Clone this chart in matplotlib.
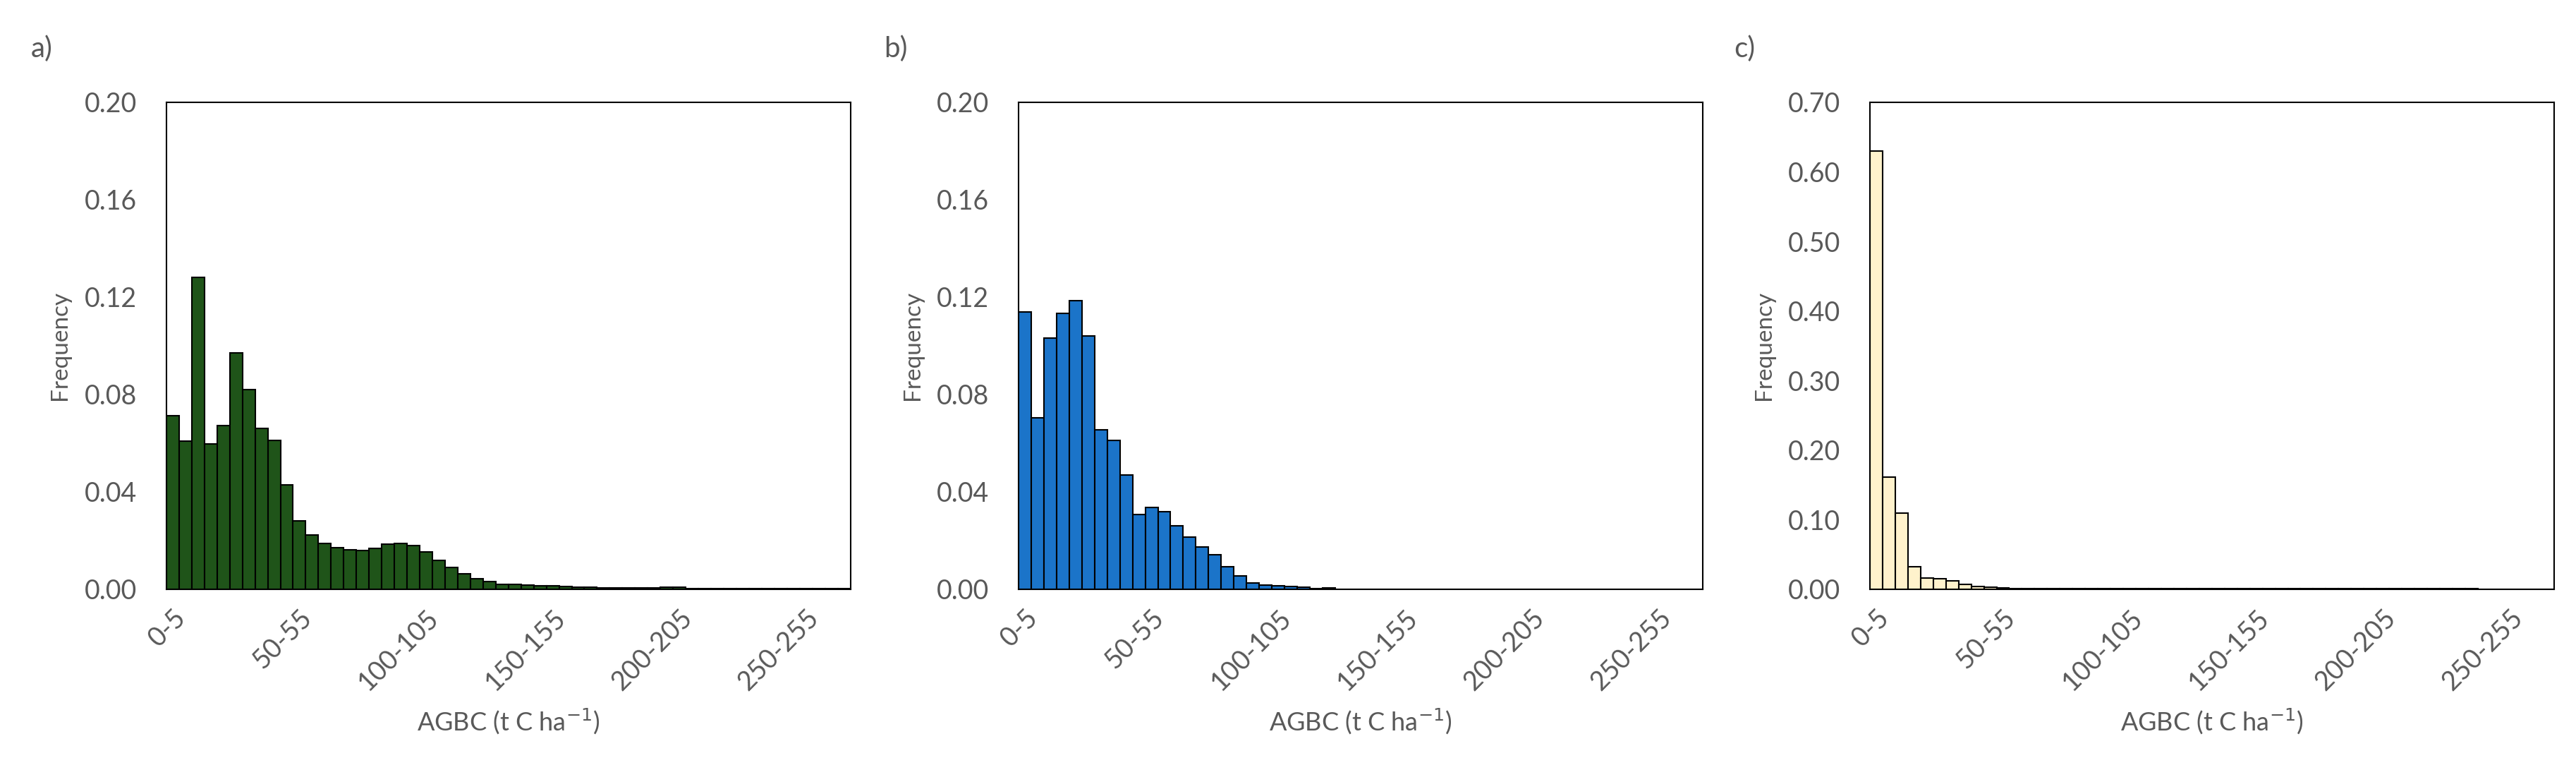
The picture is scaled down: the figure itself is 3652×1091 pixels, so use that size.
import numpy as np
import matplotlib
matplotlib.use("Agg")
from matplotlib import pyplot as plt

plt.rcParams['font.family'] = ['Lato', 'DejaVu Sans']

# 5 t C/ha bins, 0-5 .. 265-270
bin_labels = [f"{i * 5}-{i * 5 + 5}" for i in range(54)]

freq_a = [0.0713, 0.0609, 0.128, 0.0598, 0.0672, 0.097, 0.082, 0.066, 0.0612, 0.0428,
          0.028, 0.0223, 0.0187, 0.0171, 0.0161, 0.0158, 0.0168, 0.0185, 0.0189, 0.0179,
          0.0152, 0.012, 0.009, 0.0063, 0.0044, 0.0031, 0.0021, 0.002, 0.0017, 0.0014,
          0.0014, 0.0011, 0.0008, 0.0008, 0.0005, 0.0005, 0.0005, 0.0005, 0.0005, 0.0008,
          0.0008, 0.0004, 0.0004, 0.0004, 0.0004, 0.0002, 0.0002, 0.0002, 0.0002, 0.0002,
          0.0002, 0.0002, 0.0002, 0.0002]
freq_b = [0.114, 0.0705, 0.1033, 0.1134, 0.1184, 0.104, 0.0656, 0.0612, 0.047, 0.0306,
          0.0336, 0.032, 0.026, 0.0213, 0.0173, 0.0142, 0.0092, 0.0054, 0.0027, 0.0017,
          0.0014, 0.0011, 0.0008, 0.0003, 0.0005, 0.0001, 0.0001, 0.0001, 0.0001, 0.0001,
          0.0001, 0.0001, 0.0001, 0.0001, 0.0001, 0.0001, 0.0001, 0.0001, 0.0, 0.0001,
          0.0001, 0.0, 0.0, 0.0001, 0.0001, 0.0001, 0.0, 0.0, 0.0, 0.0001,
          0.0, 0.0, 0.0, 0.0]
freq_c = [0.630, 0.161, 0.110, 0.0326, 0.0163, 0.0153, 0.0118, 0.0069, 0.0044, 0.0025,
          0.0015] + [0.0005] * 37 + [0.0] * 6

panels = [
    ("a)", freq_a, "#1f5419", 0.20, [0.00, 0.04, 0.08, 0.12, 0.16, 0.20]),
    ("b)", freq_b, "#1b74c9", 0.20, [0.00, 0.04, 0.08, 0.12, 0.16, 0.20]),
    ("c)", freq_c, "#fff2cc", 0.70, [0.00, 0.10, 0.20, 0.30, 0.40, 0.50, 0.60, 0.70]),
]
lefts = [0.0646, 0.3954, 0.7259]
panel_x = [0.012, 0.343, 0.673]
text_col = "#595959"

fig = plt.figure(figsize=(36.52, 10.91), dpi=100)

for (tag, freq, color, ymax, yticks), left, px in zip(panels, lefts, panel_x):
    ax = fig.add_axes([left, 0.2347, 0.2655, 0.6325])
    x = np.arange(len(freq))
    ax.bar(x, freq, width=1.0, color=color, edgecolor="black", linewidth=1.5)
    ax.set_xlim(-0.5, len(freq) - 0.5)
    ax.set_ylim(0, ymax)
    ax.set_yticks(yticks)
    ax.set_yticklabels([f"{v:.2f}" for v in yticks])
    ax.set_xticks(x[::10])
    ax.set_xticklabels(bin_labels[::10], rotation=45, ha="right", rotation_mode="anchor")
    ax.tick_params(length=0, labelsize=27, colors=text_col)
    ax.tick_params(axis="y", pad=30)
    ax.tick_params(axis="x", pad=16)
    for s in ax.spines.values():
        s.set_color("black")
        s.set_linewidth(1.5)
    ax.set_ylabel("Frequency", fontsize=24, color=text_col, labelpad=14)
    ax.set_xlabel("AGBC (t C ha$^{-1}$)", fontsize=26, color=text_col, labelpad=12)
    fig.text(px, 0.937, tag, fontsize=29, color=text_col, va="center")

fig.savefig("out.png", dpi=100)
